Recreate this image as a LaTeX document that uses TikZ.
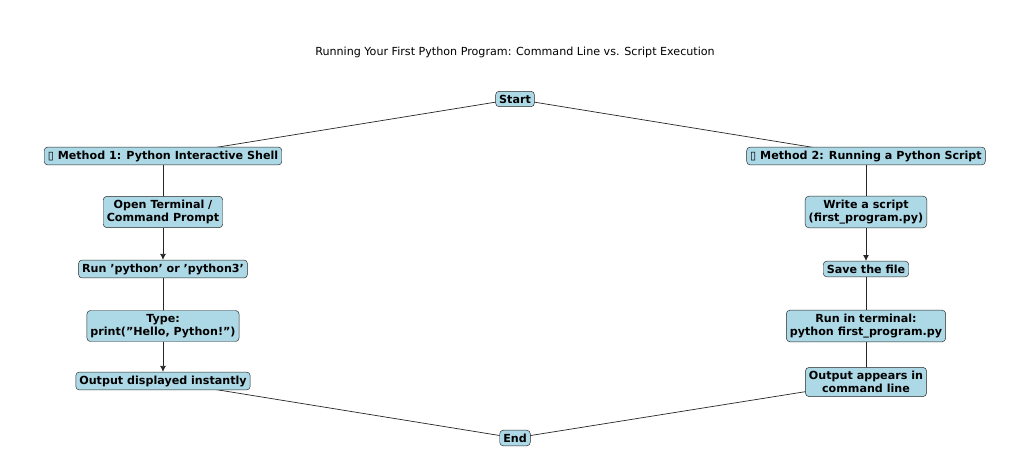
\documentclass[tikz,border=0pt]{standalone}
\usepackage{fontspec}
\setmainfont{DejaVu Sans}
\usetikzlibrary{backgrounds,arrows.meta}

\definecolor{boxblue}{HTML}{ADD8E6}
\tikzset{
  stepbox/.style={draw=black!85,fill=boxblue,rounded corners=3pt,
    align=center,inner sep=3pt,font=\fontsize{9.5}{11.5}\selectfont\bfseries},
  edge/.style={draw=black!85,line width=0.6pt},
}

\begin{document}
\begin{tikzpicture}[x=0.3mm,y=-0.3mm]
\useasboundingbox (0,0) rectangle (1024,465);

\node[font=\fontsize{9.5}{11.5}\selectfont] (title) at (515,52) {Running Your First Python Program: Command Line vs. Script Execution};

\node[stepbox] (start) at (515,99) {Start};
\node[stepbox] (m1) at (163,156) {▯ Method 1: Python Interactive Shell};
\node[stepbox] (m2) at (866,156) {▯ Method 2: Running a Python Script};

\node[stepbox] (open) at (163,212) {Open Terminal /\\Command Prompt};
\node[stepbox] (run) at (163,269) {Run 'python' or 'python3'};
\node[stepbox] (type) at (163,326) {Type:\\ print("Hello, Python!")};
\node[stepbox] (out1) at (163,381) {Output displayed instantly};

\node[stepbox] (write) at (866,212) {Write a script\\ (first\_program.py)};
\node[stepbox] (save) at (866,269) {Save the file};
\node[stepbox] (runt) at (866,326) {Run in terminal:\\ python first\_program.py};
\node[stepbox] (out2) at (866,382) {Output appears in\\command line};

\node[stepbox] (end) at (515,438) {End};

\begin{scope}[on background layer]
\draw[edge] (start.center) -- (m1.center);
\draw[edge] (start.center) -- (m2.center);
\draw[edge] (m1.center) -- (open.center);
\draw[edge] (run.center) -- (type.center);
\draw[edge] (m2.center) -- (write.center);
\draw[edge] (save.center) -- (runt.center);
\draw[edge] (runt.center) -- (out2.center);
\draw[edge] (out1.center) -- (end.center);
\draw[edge] (out2.center) -- (end.center);
\end{scope}

\draw[edge,-{Latex[length=5pt,width=5pt]}] (open) -- (run);
\draw[edge,-{Latex[length=5pt,width=5pt]}] (type) -- (out1);
\draw[edge,-{Latex[length=5pt,width=5pt]}] (write) -- (save);

\end{tikzpicture}
\end{document}
